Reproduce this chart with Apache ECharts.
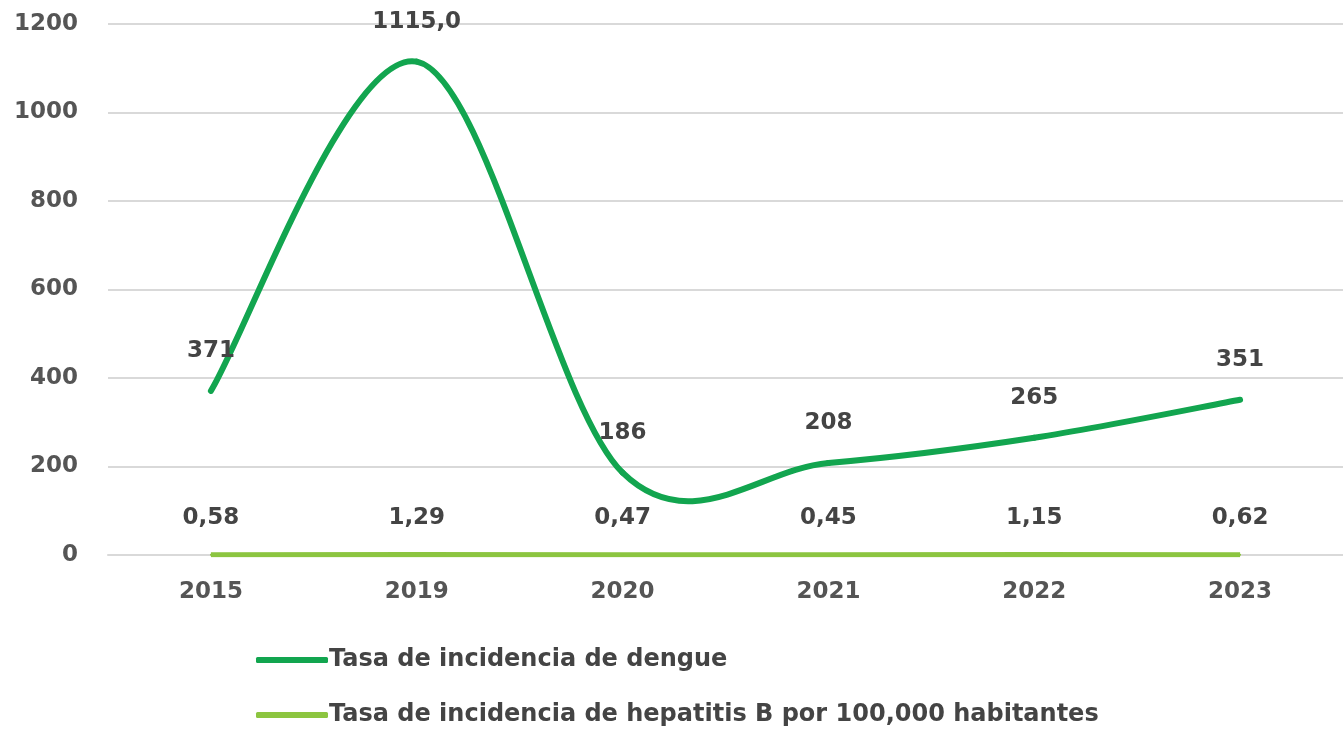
<!DOCTYPE html>
<html>
<head>
<meta charset="utf-8">
<script src="https://cdn.jsdelivr.net/npm/echarts@6/dist/echarts.min.js"></script>
<style>
    html, body { margin: 0; padding: 0; background: #fff; }
    #chart { width: 1343px; height: 731px; }
</style>
</head>
<body>
<div id="chart"></div>
<script>
// datos del gráfico
const years = ['2015', '2019', '2020', '2021', '2022', '2023'];
const dengue = [371, 1115, 186, 208, 265, 351];
const dengueLabels = ['371', '1115,0', '186', '208', '265', '351'];
const hepatitis = [0.58, 1.29, 0.47, 0.45, 1.15, 0.62];
const yTicks = [0, 200, 400, 600, 800, 1000, 1200];

const chart = echarts.init(document.getElementById('chart'));
const font = 'DejaVu Sans';
const dengueColor = '#12a54f';
const hepColor = '#8cc540';

// curva suavizada tipo Excel (Catmull-Rom) a partir de las coordenadas del eje
function renderDengue(params, api) {
    const i = params.dataIndex;
    const n = dengue.length;
    const pt = k => api.coord([Math.max(0, Math.min(n - 1, k)), dengue[Math.max(0, Math.min(n - 1, k))]]);
    const p1 = pt(i);
    const children = [];
    if (i < n - 1) {
        const p0 = pt(i - 1), p2 = pt(i + 1), p3 = pt(i + 2);
        children.push({
            type: 'bezierCurve',
            shape: {
                x1: p1[0], y1: p1[1],
                cpx1: p1[0] + (p2[0] - p0[0]) / 6, cpy1: p1[1] + (p2[1] - p0[1]) / 6,
                cpx2: p2[0] - (p3[0] - p1[0]) / 6, cpy2: p2[1] - (p3[1] - p1[1]) / 6,
                x2: p2[0], y2: p2[1]
            },
            style: { stroke: dengueColor, lineWidth: 6, fill: null, lineCap: 'round' }
        });
    }
    children.push({
        type: 'text',
        z2: 10,
        style: {
            text: dengueLabels[i],
            x: p1[0], y: p1[1] - 40,
            align: 'center', verticalAlign: 'middle',
            fill: '#444',
            fontFamily: font, fontWeight: 'bold', fontSize: 23
        }
    });
    return { type: 'group', children: children };
}

let option = {
    animation: false,
    grid: {
        left: 108,
        right: 0,
        top: 24,
        bottom: 176
    },
    xAxis: {
        type: 'category',
        data: years,
        boundaryGap: true,
        axisLine: { lineStyle: { color: '#d9d9d9', width: 2 } },
        axisTick: { show: false },
        axisLabel: {
            margin: 26,
            color: '#555',
            fontFamily: font,
            fontWeight: 'bold',
            fontSize: 23
        }
    },
    yAxis: {
        type: 'value',
        min: yTicks[0],
        max: yTicks[yTicks.length - 1],
        interval: 200,
        axisLine: { show: false },
        axisTick: { show: false },
        splitLine: { lineStyle: { color: '#d9d9d9', width: 2 } },
        axisLabel: {
            margin: 30,
            color: '#555',
            fontFamily: font,
            fontWeight: 'bold',
            fontSize: 23,
            formatter: v => String(v)
        }
    },
    legend: {
        orient: 'vertical',
        left: 256,
        top: 648,
        padding: 0,
        itemGap: 31,
        itemWidth: 72,
        itemHeight: 6,
        icon: 'roundRect',
        data: ['Tasa de incidencia de dengue', 'Tasa de incidencia de hepatitis B por 100,000 habitantes'],
        textStyle: {
            color: '#444',
            fontFamily: font,
            fontWeight: 'bold',
            fontSize: 24,
            padding: [0, 0, 0, -4]
        }
    },
    series: [
        {
            name: 'Tasa de incidencia de dengue',
            type: 'custom',
            data: dengue.map((v, i) => [i, v]),
            encode: { x: 0, y: 1 },
            renderItem: renderDengue,
            itemStyle: { color: dengueColor },
            z: 3
        },
        {
            name: 'Tasa de incidencia de hepatitis B por 100,000 habitantes',
            type: 'line',
            data: hepatitis,
            symbol: 'circle',
            symbolSize: 2,
            showSymbol: true,
            z: 2,
            lineStyle: { color: hepColor, width: 5 },
            itemStyle: { color: hepColor },
            label: {
                show: true,
                position: 'top',
                distance: 24,
                color: '#444',
                fontFamily: font,
                fontWeight: 'bold',
                fontSize: 23,
                formatter: p => String(p.value).replace('.', ',')
            }
        }
    ]
};

chart.setOption(option);
window.addEventListener('resize', () => chart.resize());
</script>
</body>
</html>
